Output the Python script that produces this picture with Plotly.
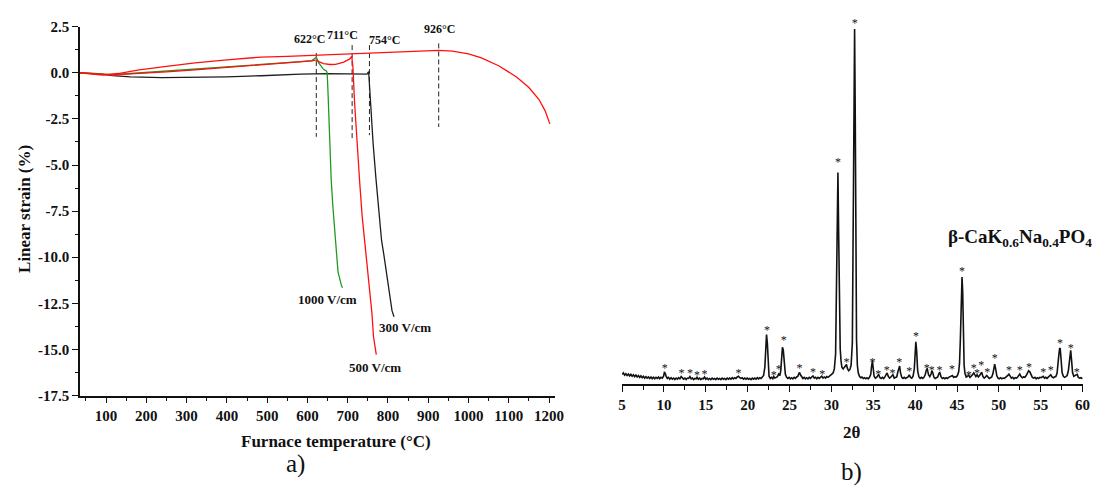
import plotly.graph_objects as go

W, H = 1099, 488
SERIF = "Liberation Serif, Times New Roman, serif"

# ---------------- (a) linear strain vs furnace temperature ----------------
temp_1000 = [35, 80, 116, 160, 200, 260, 321, 400, 452, 517, 583, 611, 622, 628, 640, 647,
             649, 651, 655, 659, 663, 668, 672, 676, 681, 684, 687]
strain_1000 = [0.0, -0.06, -0.1, -0.04, 0.02, 0.1, 0.18, 0.3, 0.38, 0.5, 0.6, 0.66, 0.84, 0.54, 0.19, 0.1,
               0.0, -1.0, -3.9, -5.8, -7.2, -8.9, -9.7, -10.8, -11.3, -11.5, -11.66]

temp_500 = [35, 80, 116, 160, 198, 250, 321, 400, 452, 500, 583, 611, 622, 628, 640, 656, 670, 681,
            690, 697, 705, 710, 713, 717, 723, 730, 736, 742, 748, 755, 760, 764, 768, 771]
strain_500 = [0.0, -0.08, -0.12, -0.06, -0.02, 0.05, 0.16, 0.28, 0.37, 0.44, 0.57, 0.64, 0.7, 0.6, 0.5, 0.45,
              0.46, 0.51, 0.58, 0.66, 0.75, 0.89, 0.3, -1.6, -3.8, -6.0, -7.8, -9.07, -10.4, -11.7, -13.0,
              -14.3, -14.9, -15.28]

temp_300 = [35, 80, 116, 160, 239, 321, 400, 485, 583, 650, 700, 748, 752, 756, 763, 770, 778, 784,
            790, 797, 804, 810, 815]
strain_300 = [0.0, -0.05, -0.16, -0.22, -0.26, -0.26, -0.22, -0.16, -0.07, -0.05, -0.06, -0.07, 0.07,
              -1.6, -3.8, -5.7, -7.6, -9.07, -9.9, -11.0, -12.13, -12.9, -13.23]

temp_free = [35, 92, 130, 182, 250, 321, 400, 435, 485, 550, 600, 650, 700, 750, 800, 850, 900, 926,
             960, 1000, 1032, 1076, 1120, 1150, 1175, 1190, 1202]
strain_free = [0.0, -0.12, -0.04, 0.16, 0.35, 0.54, 0.7, 0.77, 0.85, 0.89, 0.93, 0.98, 1.03, 1.08, 1.13,
               1.17, 1.2, 1.21, 1.17, 1.02, 0.81, 0.37, -0.24, -0.8, -1.45, -2.05, -2.77]

onset_temps = [622, 711, 754, 926]
onset_top = [1.07, 1.5, 1.5, 1.59]
onset_bottom = [-3.47, -3.6, -3.38, -2.94]
onset_label_x = [606, 688, 792, 929]
onset_label_y = [1.82, 2.03, 1.77, 2.38]

field_labels = ["1000 V/cm", "500 V/cm", "300 V/cm"]
field_label_x = [650, 767, 843]
field_label_y = [-12.27, -16.0, -13.83]

strain_ticks = [2.5, 0.0, -2.5, -5.0, -7.5, -10.0, -12.5, -15.0, -17.5]

# ---------------- (b) XRD pattern: (2theta, intensity) ----------------
xrd_points = [
    (5.00, 25), (5.15, 29), (5.30, 23), (5.45, 27), (5.60, 22), (5.75, 26), (5.90, 21), (6.05, 25),
    (6.20, 20), (6.35, 24), (6.50, 19), (6.65, 23), (6.80, 18), (6.95, 22), (7.10, 17), (7.25, 21),
    (7.40, 16), (7.55, 20), (7.70, 15), (7.85, 19), (8.00, 15), (8.15, 18), (8.30, 14), (8.45, 18),
    (8.60, 13), (8.75, 17), (8.90, 13), (9.05, 17), (9.20, 14), (9.35, 18), (9.50, 13), (9.65, 17),
    (9.80, 15), (9.95, 20), (10.05, 30), (10.15, 28), (10.25, 20), (10.40, 14), (10.55, 17), (10.70, 12),
    (10.85, 16), (11.00, 12), (11.15, 15), (11.30, 11), (11.45, 15), (11.60, 12), (11.75, 16), (11.90, 13),
    (12.05, 19), (12.20, 15), (12.35, 12), (12.50, 15), (12.65, 11), (12.80, 15), (12.95, 14), (13.10, 19),
    (13.25, 13), (13.40, 15), (13.55, 11), (13.70, 14), (13.85, 13), (13.95, 17), (14.10, 12), (14.25, 15),
    (14.40, 11), (14.55, 14), (14.70, 13), (14.85, 18), (15.00, 12), (15.15, 15), (15.30, 11), (15.45, 14),
    (15.60, 11), (15.75, 15), (15.90, 12), (16.05, 14), (16.20, 11), (16.35, 15), (16.50, 12), (16.65, 14),
    (16.80, 11), (16.95, 15), (17.10, 12), (17.25, 14), (17.40, 11), (17.55, 15), (17.70, 12), (17.85, 15),
    (18.00, 12), (18.15, 16), (18.30, 13), (18.45, 16), (18.60, 14), (18.75, 18), (18.90, 20), (19.05, 16),
    (19.20, 14), (19.35, 16), (19.50, 12), (19.65, 15), (19.80, 12), (19.95, 15), (20.10, 12), (20.25, 14),
    (20.40, 11), (20.55, 15), (20.70, 12), (20.85, 15), (21.00, 12), (21.15, 16), (21.30, 13), (21.45, 16),
    (21.60, 14), (21.75, 18), (21.90, 22), (22.05, 45), (22.15, 95), (22.25, 134), (22.35, 110), (22.45, 45),
    (22.55, 20), (22.70, 14), (22.85, 17), (23.00, 13), (23.10, 19), (23.25, 15), (23.40, 17), (23.55, 19),
    (23.70, 26), (23.85, 22), (23.95, 35), (24.05, 65), (24.15, 99), (24.25, 92), (24.35, 50), (24.50, 25),
    (24.65, 17), (24.80, 14), (24.95, 17), (25.10, 13), (25.25, 16), (25.40, 13), (25.55, 17), (25.70, 14),
    (25.85, 18), (26.00, 20), (26.10, 27), (26.20, 30), (26.30, 24), (26.45, 17), (26.60, 14), (26.75, 17),
    (26.90, 13), (27.05, 16), (27.20, 13), (27.35, 17), (27.50, 14), (27.65, 18), (27.80, 21), (27.95, 15),
    (28.10, 17), (28.25, 13), (28.40, 17), (28.55, 14), (28.70, 18), (28.85, 20), (29.00, 15), (29.15, 18),
    (29.30, 15), (29.45, 19), (29.60, 17), (29.75, 21), (29.90, 22), (30.05, 26), (30.20, 29), (30.35, 40),
    (30.50, 80), (30.60, 220), (30.70, 480), (30.78, 577), (30.86, 420), (30.95, 180), (31.05, 95), (31.15, 62),
    (31.25, 45), (31.40, 40), (31.55, 44), (31.70, 50), (31.80, 52), (31.90, 42), (32.05, 35), (32.20, 38),
    (32.35, 50), (32.50, 110), (32.60, 350), (32.70, 800), (32.77, 969), (32.84, 760), (32.92, 350), (33.00, 120),
    (33.10, 50), (33.20, 30), (33.35, 20), (33.50, 16), (33.65, 18), (33.80, 14), (33.95, 16), (34.10, 13),
    (34.25, 16), (34.40, 13), (34.55, 17), (34.70, 25), (34.80, 48), (34.90, 62), (35.00, 40), (35.10, 20),
    (35.25, 15), (35.40, 17), (35.55, 22), (35.65, 25), (35.80, 16), (35.95, 14), (36.10, 17), (36.25, 14),
    (36.40, 19), (36.55, 27), (36.65, 29), (36.80, 19), (36.95, 15), (37.10, 18), (37.25, 23), (37.35, 24),
    (37.50, 15), (37.65, 17), (37.80, 18), (37.95, 33), (38.05, 46), (38.15, 48), (38.25, 30), (38.40, 17),
    (38.55, 14), (38.70, 17), (38.85, 14), (39.00, 16), (39.15, 18), (39.30, 24), (39.45, 17), (39.60, 15),
    (39.75, 20), (39.90, 40), (40.00, 85), (40.08, 114), (40.18, 90), (40.30, 35), (40.45, 18), (40.60, 14),
    (40.75, 17), (40.90, 14), (41.05, 17), (41.20, 24), (41.35, 38), (41.45, 40), (41.60, 24), (41.75, 19),
    (41.90, 26), (42.00, 35), (42.10, 30), (42.25, 17), (42.40, 14), (42.55, 16), (42.70, 18), (42.85, 28),
    (42.95, 30), (43.10, 18), (43.25, 14), (43.40, 16), (43.55, 13), (43.70, 16), (43.85, 14), (44.00, 17),
    (44.15, 18), (44.30, 21), (44.45, 22), (44.60, 17), (44.75, 19), (44.90, 18), (45.05, 22), (45.20, 32),
    (45.30, 55), (45.40, 120), (45.50, 240), (45.60, 291), (45.68, 250), (45.76, 120), (45.85, 50), (45.95, 28),
    (46.10, 18), (46.25, 20), (46.40, 23), (46.55, 17), (46.70, 20), (46.85, 24), (47.00, 29), (47.10, 25),
    (47.25, 19), (47.40, 24), (47.55, 18), (47.70, 22), (47.85, 30), (47.95, 31), (48.10, 19), (48.25, 15),
    (48.40, 18), (48.55, 22), (48.70, 18), (48.85, 14), (49.00, 16), (49.15, 18), (49.30, 28), (49.40, 42),
    (49.50, 53), (49.60, 42), (49.75, 22), (49.90, 15), (50.05, 13), (50.20, 16), (50.35, 13), (50.50, 15),
    (50.65, 14), (50.80, 17), (50.95, 19), (51.10, 23), (51.20, 26), (51.35, 20), (51.50, 15), (51.65, 17),
    (51.80, 13), (51.95, 16), (52.10, 15), (52.25, 18), (52.40, 24), (52.50, 26), (52.65, 19), (52.80, 16),
    (52.95, 18), (53.10, 17), (53.25, 21), (53.40, 28), (53.55, 35), (53.70, 32), (53.85, 22), (54.00, 17),
    (54.15, 15), (54.30, 17), (54.45, 13), (54.60, 16), (54.75, 14), (54.90, 17), (55.05, 16), (55.20, 19),
    (55.30, 20), (55.45, 15), (55.60, 17), (55.75, 14), (55.90, 18), (56.05, 20), (56.20, 24), (56.35, 18),
    (56.50, 16), (56.65, 18), (56.80, 19), (56.95, 28), (57.05, 45), (57.15, 75), (57.25, 95), (57.32, 97),
    (57.42, 70), (57.55, 30), (57.70, 20), (57.85, 17), (58.00, 19), (58.15, 22), (58.30, 35), (58.40, 55),
    (58.50, 85), (58.58, 91), (58.68, 65), (58.80, 30), (58.95, 20), (59.10, 22), (59.25, 26), (59.35, 25),
    (59.50, 17), (59.65, 15), (59.80, 16), (60.00, 13),
]
two_theta = [p[0] for p in xrd_points]
intensity = [p[1] for p in xrd_points]

star_theta = [10.1, 12.1, 13.1, 13.95, 14.85, 18.9, 22.3, 23.1, 23.7, 24.3, 26.2, 27.8, 28.9,
              30.8, 31.8, 32.8, 34.9, 35.6, 36.6, 37.3, 38.1, 39.3, 40.1, 41.4, 42.0, 42.9, 44.4,
              45.6, 46.4, 47.0, 47.4, 47.9, 48.6, 49.5, 51.2, 52.5, 53.6, 55.3, 56.2, 57.3, 58.6, 59.3]
star_level = [40, 25, 25, 22, 24, 26, 145, 20, 38, 117, 41, 28, 24,
              604, 57, 984, 57, 24, 35, 26, 57, 31, 128, 40, 33, 33, 38,
              304, 22, 40, 26, 47, 29, 68, 35, 35, 42, 29, 35, 107, 95, 29]

theta_ticks = list(range(5, 61, 5))

fig = go.Figure()

dash_style = dict(color="#222222", width=1, dash="5px,3px")
for t, top, bot in zip(onset_temps, onset_top, onset_bottom):
    fig.add_trace(go.Scatter(x=[t, t], y=[top, bot], mode="lines", line=dash_style,
                             xaxis="x", yaxis="y", hoverinfo="skip"))

fig.add_trace(go.Scatter(x=temp_300, y=strain_300, mode="lines", name="300 V/cm",
                         line=dict(color="#1e1e1e", width=1.3), xaxis="x", yaxis="y"))
fig.add_trace(go.Scatter(x=temp_1000, y=strain_1000, mode="lines", name="1000 V/cm",
                         line=dict(color="#1f9a1f", width=1.3), xaxis="x", yaxis="y"))
fig.add_trace(go.Scatter(x=temp_500, y=strain_500, mode="lines", name="500 V/cm",
                         line=dict(color="#ff1010", width=1.3), xaxis="x", yaxis="y"))
fig.add_trace(go.Scatter(x=temp_free, y=strain_free, mode="lines", name="no field",
                         line=dict(color="#ff1010", width=1.3), xaxis="x", yaxis="y"))

fig.add_trace(go.Scatter(x=two_theta, y=intensity, mode="lines",
                         line=dict(color="#111111", width=1.6), xaxis="x2", yaxis="y2"))
fig.add_trace(go.Scatter(x=star_theta, y=star_level, mode="text", text=["*"] * len(star_theta),
                         textposition="middle center",
                         textfont=dict(family=SERIF, size=12, color="#111111"),
                         xaxis="x2", yaxis="y2", hoverinfo="skip"))

annotations = []
for x, y, t in zip(onset_label_x, onset_label_y, onset_temps):
    annotations.append(dict(x=x, y=y, xref="x", yref="y", text=f"<b>{t}°C</b>", showarrow=False,
                            xanchor="center", yanchor="middle",
                            font=dict(family=SERIF, size=12, color="#111111")))
for x, y, t in zip(field_label_x, field_label_y, field_labels):
    annotations.append(dict(x=x, y=y, xref="x", yref="y", text=f"<b>{t}</b>", showarrow=False,
                            xanchor="center", yanchor="middle",
                            font=dict(family=SERIF, size=13, color="#111111")))


def paper_text(px, py, text, size, angle=0, xanchor="center"):
    return dict(x=px / W, y=1 - py / H, xref="paper", yref="paper", text=text, textangle=angle,
                showarrow=False, xanchor=xanchor, yanchor="middle",
                font=dict(family=SERIF, size=size, color="#111111"))


annotations += [
    paper_text(336, 448, "<b>Furnace temperature (°C)</b>", 17),
    paper_text(20, 208, "<b>Linear strain (%)</b>", 17, angle=-90),
    paper_text(295, 471, "a)", 25),
    paper_text(858, 439, "<b>2θ</b>", 17),
    paper_text(858, 480, "b)", 25),
    paper_text(953, 238, "<b>β-CaK<sub>0.6</sub>Na<sub>0.4</sub>PO<sub>4</sub></b>", 19, xanchor="left"),
]

axis_font = dict(family=SERIF, size=15, color="#111111")
common_axis = dict(showline=True, linecolor="#111111", linewidth=1.5, showgrid=False, zeroline=False,
                   ticks="outside", tickcolor="#111111", tickwidth=1.3, tickfont=axis_font)

fig.update_layout(
    width=W, height=H, margin=dict(l=0, r=0, t=0, b=0),
    paper_bgcolor="white", plot_bgcolor="white", showlegend=False,
    annotations=annotations,
    xaxis=dict(common_axis, domain=[76.8 / W, 557.7 / W], range=[35, 1215], anchor="y",
               tickmode="linear", tick0=0, dtick=100, ticklen=6,
               tickprefix="<b>", ticksuffix="</b>",
               minor=dict(tickmode="linear", tick0=0, dtick=50, ticklen=3.5,
                          tickcolor="#111111", tickwidth=1.2, showgrid=False)),
    yaxis=dict(common_axis, domain=[1 - 400.7 / H, 1 - 19.3 / H], range=[-17.5, 2.5], anchor="x",
               tickmode="array", tickvals=strain_ticks,
               ticktext=[f"<b>{v:.1f}</b>" for v in strain_ticks], ticklen=6,
               minor=dict(tickmode="linear", tick0=0, dtick=1.25, ticklen=3.5,
                          tickcolor="#111111", tickwidth=1.2, showgrid=False)),
    xaxis2=dict(common_axis, domain=[625.5 / W, 1091.5 / W], range=[5, 60], anchor="y2",
                tickmode="array", tickvals=theta_ticks, ticktext=[f"<b>{v}</b>" for v in theta_ticks],
                ticklen=7,
                minor=dict(tickmode="linear", tick0=0, dtick=2.5, ticklen=5,
                           tickcolor="#111111", tickwidth=1.2, showgrid=False)),
    yaxis2=dict(domain=[1 - 388.3 / H, 1 - 10 / H], range=[0, 1000], anchor="x2", visible=False),
)

fig.write_html("out.html")
